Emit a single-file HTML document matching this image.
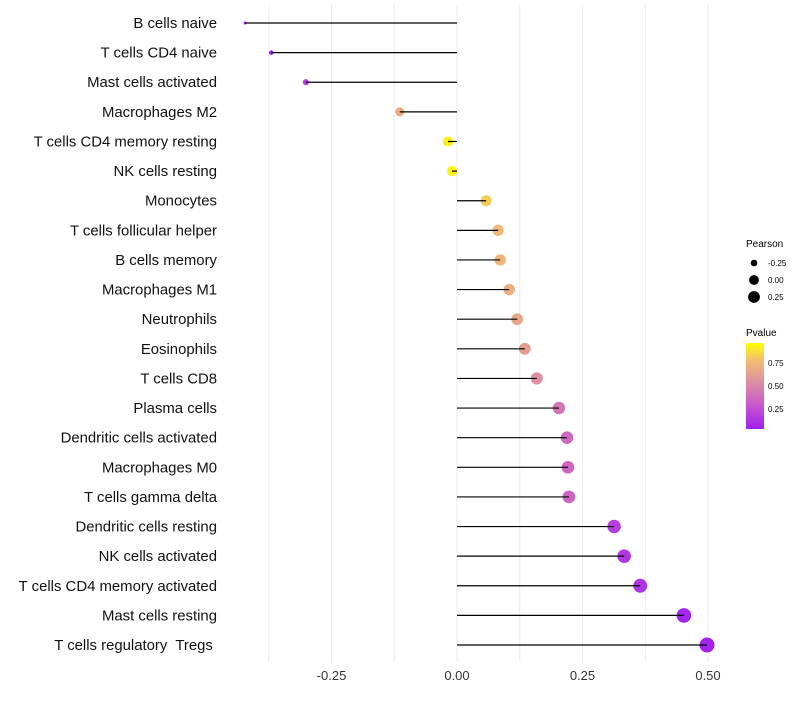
<!DOCTYPE html>
<html><head><meta charset="utf-8"><style>
body{margin:0;background:#fff;font-family:"Liberation Sans",sans-serif}
svg text{font-family:"Liberation Sans",sans-serif;white-space:pre}
</style></head><body>
<svg id="c" width="800" height="700">
<defs><linearGradient id="pg" x1="0" y1="1" x2="0" y2="0">
<stop offset="0" stop-color="#a020f0"/><stop offset="0.3" stop-color="#c95cc8"/><stop offset="0.55" stop-color="#de90a0"/><stop offset="0.8" stop-color="#f2bd72"/><stop offset="1" stop-color="#ffff00"/></linearGradient></defs>
<g id="grid"></g><g id="pts"></g><g id="marks"></g><g id="labels"></g>
<g>
<text x="746" y="247" font-size="10">Pearson</text>
<circle cx="754" cy="263" r="3.3" fill="#000"/><text x="768" y="266" font-size="8">-0.25</text>
<circle cx="754" cy="280" r="4.9" fill="#000"/><text x="768" y="283" font-size="8">0.00</text>
<circle cx="754" cy="297" r="5.9" fill="#000"/><text x="768" y="300" font-size="8">0.25</text>
<text x="746" y="336" font-size="10">Pvalue</text>
<rect x="746" y="343" width="18" height="86" fill="url(#pg)"/>
<text x="768" y="366" font-size="8">0.75</text>
<text x="768" y="389" font-size="8">0.50</text>
<text x="768" y="412" font-size="8">0.25</text>
</g>
</svg>
<script>
const categories=["B cells naive","T cells CD4 naive","Mast cells activated","Macrophages M2","T cells CD4 memory resting","NK cells resting","Monocytes","T cells follicular helper","B cells memory","Macrophages M1","Neutrophils","Eosinophils","T cells CD8","Plasma cells","Dendritic cells activated","Macrophages M0","T cells gamma delta","Dendritic cells resting","NK cells activated","T cells CD4 memory activated","Mast cells resting","T cells regulatory  Tregs "];
const pearson=[-0.422,-0.370,-0.301,-0.114,-0.018,-0.010,0.058,0.082,0.086,0.104,0.120,0.135,0.159,0.203,0.219,0.221,0.223,0.313,0.333,0.365,0.452,0.498];
const pvalue=[0.03,0.05,0.15,0.7,0.95,0.96,0.85,0.78,0.76,0.72,0.68,0.62,0.55,0.42,0.36,0.35,0.34,0.15,0.12,0.1,0.03,0.02];
const xTicks=[-0.25,0,0.25,0.5];
const xTickLabels=["-0.25","0.00","0.25","0.50"];
const NS="http://www.w3.org/2000/svg";
const X=v=>457+v*502;
const Y=i=>23+i*29.62;
const R=v=>Math.sqrt(2.5+(v+0.42)/0.92*54);
const stops=[[0,[160,32,240]],[0.3,[201,92,200]],[0.55,[222,144,160]],[0.8,[242,189,114]],[1,[255,255,0]]];
function col(p){for(let i=1;i<stops.length;i++){if(p<=stops[i][0]){const a=stops[i-1],b=stops[i],t=(p-a[0])/(b[0]-a[0]);return "rgb("+a[1].map((c,k)=>Math.round(c+(b[1][k]-c)*t)).join(",")+")";}}return "rgb(255,255,0)";}
function mk(t,a,p){const e=document.createElementNS(NS,t);for(const k in a)e.setAttribute(k,a[k]);p.appendChild(e);return e;}
const grid=document.getElementById("grid"),marks=document.getElementById("marks"),pts=document.getElementById("pts"),labels=document.getElementById("labels");
for(let g=-0.375;g<=0.5001;g+=0.125){const l=mk("line",{x1:X(g),x2:X(g),y1:5,y2:662,stroke:"#ebebeb","stroke-width":1},grid);

}
xTicks.forEach((t,i)=>{const e=mk("text",{x:X(t),y:680,"font-size":13,"text-anchor":"middle",fill:"#333"},labels);e.textContent=xTickLabels[i];

});
categories.forEach((c,i)=>{
const t=mk("text",{x:217,y:Y(i)+5,"font-size":14.9,"text-anchor":"end",fill:"#111"},labels);t.textContent=c;


const d=mk("circle",{cx:X(pearson[i]),cy:Y(i),r:R(pearson[i]),fill:col(pvalue[i])},pts);


const l=mk("line",{x1:X(0),x2:X(pearson[i]),y1:Y(i),y2:Y(i),stroke:"#000","stroke-width":1.2},marks);


});
</script>
</body></html>
